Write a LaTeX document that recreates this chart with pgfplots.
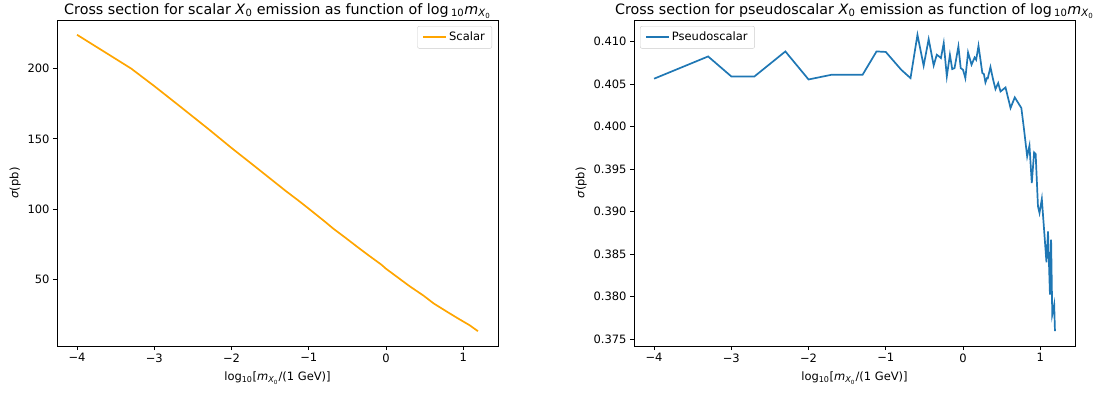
\documentclass[border=0pt]{standalone}
\usepackage{fontspec}
\setmainfont{DejaVu Sans}
\usepackage{pgfplots}
\pgfplotsset{compat=1.18}
\definecolor{mplorange}{HTML}{FFA500}
\definecolor{mplblue}{HTML}{1F77B4}
\newcommand{\tickfont}{\fontsize{11.5}{13.5}\selectfont}
\newcommand{\titlefont}{\fontsize{14.3}{16}\selectfont}
\pgfplotsset{
  mystyle/.style={
    width=441pt, height=326pt, scale only axis,
    axis line style={line width=0.9pt},
    tick style={line width=0.9pt, black},
    tick align=outside, major tick length=4pt,
    xtick pos=lower, ytick pos=left,
    tick label style={font=\tickfont},
    label style={font=\tickfont},
    xlabel style={yshift=-3pt},
    title style={font=\titlefont, yshift=-8pt},
    xtick={-4,-3,-2,-1,0,1},
    xticklabels={−4,−3,−2,−1,0,1},
    xmin=-4.2595, xmax=1.4495,
    xlabel={log\textsubscript{10}[\textit{m}\textsubscript{\textit{X}\textsubscript{0}}/(1 GeV)]},
    ylabel={\textit{σ}(pb)},
    legend style={font=\tickfont, draw=black!20, fill=white, fill opacity=0.8, text opacity=1, draw opacity=1,
      rounded corners=2pt, inner xsep=5pt, inner ysep=4pt, cells={anchor=west}},
    legend image code/.code={\draw[#1] (0pt,0pt) -- (23pt,0pt);},
  }
}
\begin{document}
\begin{tikzpicture}
\useasboundingbox (-57pt,-46pt) rectangle (1045pt,346pt);
\begin{axis}[mystyle,
  at={(0pt,0pt)}, anchor=south west,
  ymin=2.66, ymax=234.5,
  ytick={50,100,150,200},
  yticklabels={50,100,150,200},
  title={Cross section for scalar \textit{X}\textsubscript{0} emission as function of log\,\textsubscript{10}\textit{m}\textsubscript{\textit{X}\textsubscript{0}}},
  legend style={at={(1,1)}, anchor=north east, xshift=-6pt, yshift=-6pt},
]
\addplot[color=mplorange, line width=1.7pt] coordinates {
(-4,224) (-3.3,200) (-3,187.5) (-2.7,174.5) (-2.3,157) (-2,143.5) (-1.7,130.5)
(-1.3,113) (-1.12,105.5) (-1,100.3) (-0.8,91.5) (-0.68,86) (-0.51,79) (-0.38,73.5)
(-0.21,66.5) (-0.06,60.5) (0,57.6) (0.15,51.5) (0.31,45) (0.485,38.5) (0.615,33)
(0.79,27) (0.94,22) (1.08,17.5) (1.19,13.2)
};
\addlegendentry{Scalar}
\end{axis}
\begin{axis}[mystyle,
  at={(577pt,0pt)}, anchor=south west,
  ymin=0.37419, ymax=0.41256,
  ytick={0.375,0.380,0.385,0.390,0.395,0.400,0.405,0.410},
  yticklabels={0.375,0.380,0.385,0.390,0.395,0.400,0.405,0.410},
  title={Cross section for pseudoscalar \textit{X}\textsubscript{0} emission as function of log\,\textsubscript{10}\textit{m}\textsubscript{\textit{X}\textsubscript{0}}},
  legend style={at={(0,1)}, anchor=north west, xshift=6pt, yshift=-6pt},
]
\addplot[color=mplblue, line width=1.7pt] coordinates {
(-4,0.40565) (-3.3,0.40827) (-3,0.40592) (-2.7,0.40592) (-2.3,0.40886) (-2,0.40556)
(-1.7,0.40612) (-1.3,0.40612) (-1.12,0.40886) (-1.0,0.40880) (-0.80,0.40670) (-0.68,0.40572)
(-0.59,0.41082) (-0.51,0.40718) (-0.445,0.41031) (-0.38,0.40721) (-0.34,0.40847) (-0.31,0.40827)
(-0.286,0.40808) (-0.25,0.40984) (-0.21,0.40592) (-0.17,0.40847) (-0.14,0.40678) (-0.11,0.40690)
(-0.06,0.40945) (-0.03,0.40690) (0.0,0.40670) (0.03,0.40572) (0.065,0.40874) (0.11,0.40730)
(0.15,0.40815) (0.17,0.40788) (0.20,0.40953) (0.25,0.40631) (0.27,0.40620) (0.29,0.40521)
(0.31,0.40572) (0.32,0.40570) (0.355,0.40702) (0.385,0.40572) (0.42,0.40443) (0.455,0.40514)
(0.485,0.40415) (0.55,0.40462) (0.615,0.40220) (0.67,0.40345) (0.755,0.40220) (0.79,0.39965)
(0.83,0.39650) (0.86,0.39777) (0.89,0.39338) (0.92,0.39698) (0.94,0.39679) (0.97,0.39063)
(0.99,0.38985) (1.02,0.39150) (1.08,0.38404) (1.10,0.38769) (1.125,0.38024) (1.14,0.38671)
(1.155,0.37788) (1.18,0.37906) (1.19,0.37593)
};
\addlegendentry{Pseudoscalar}
\end{axis}
\end{tikzpicture}
\end{document}
